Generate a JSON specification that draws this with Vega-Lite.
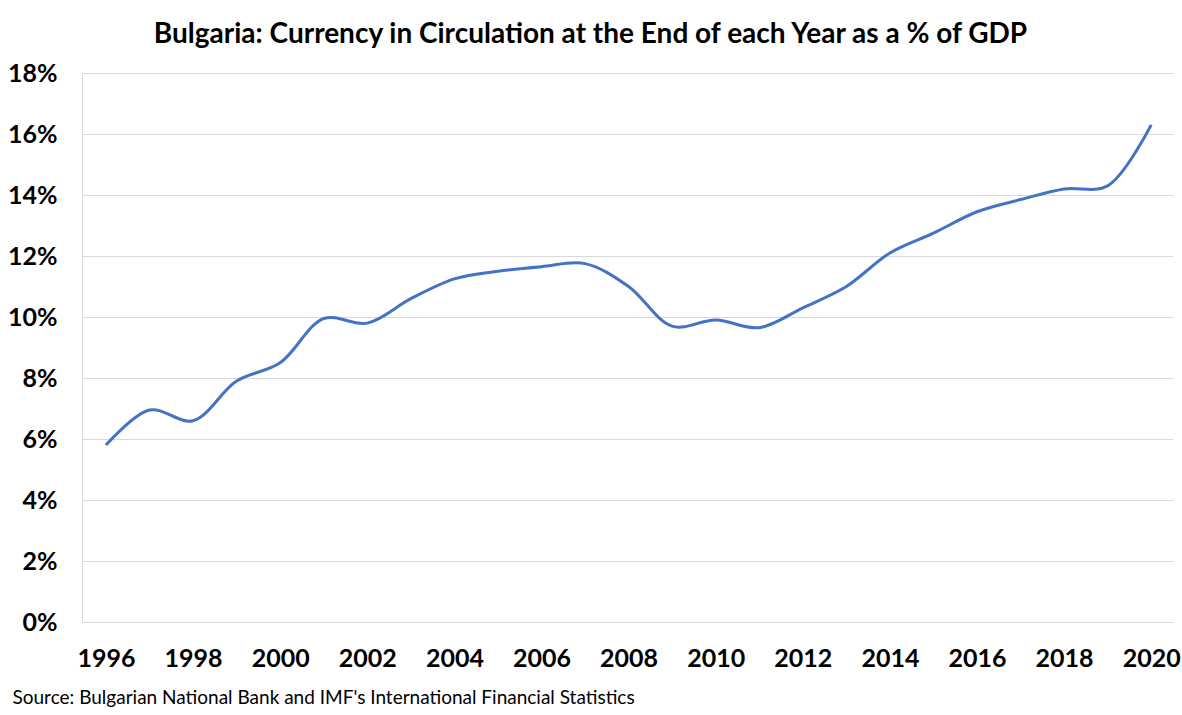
{
  "$schema": "https://vega.github.io/schema/vega-lite/v6.json",
  "width": 1091,
  "height": 549,
  "autosize": {"type": "none"},
  "padding": {"left": 82, "top": 73, "right": 9, "bottom": 93},
  "background": "white",
  "title": {
    "text": "Bulgaria: Currency in Circulation at the End of each Year as a % of GDP",
    "font": "Lato",
    "fontSize": 28,
    "fontWeight": "bold",
    "color": "#000000",
    "anchor": "middle",
    "frame": "group",
    "dx": -37,
    "offset": 12
  },
  "config": {"view": {"stroke": null}},
  "data": {
    "values": [
      {"year": 1996, "pct": 5.8},
      {"year": 1997, "pct": 6.95},
      {"year": 1998, "pct": 6.6},
      {"year": 1999, "pct": 7.9},
      {"year": 2000, "pct": 8.5},
      {"year": 2001, "pct": 9.95},
      {"year": 2002, "pct": 9.8},
      {"year": 2003, "pct": 10.6},
      {"year": 2004, "pct": 11.25},
      {"year": 2005, "pct": 11.5},
      {"year": 2006, "pct": 11.65},
      {"year": 2007, "pct": 11.75},
      {"year": 2008, "pct": 11.0},
      {"year": 2009, "pct": 9.7},
      {"year": 2010, "pct": 9.9},
      {"year": 2011, "pct": 9.65},
      {"year": 2012, "pct": 10.3},
      {"year": 2013, "pct": 11.0},
      {"year": 2014, "pct": 12.1},
      {"year": 2015, "pct": 12.75},
      {"year": 2016, "pct": 13.45},
      {"year": 2017, "pct": 13.85},
      {"year": 2018, "pct": 14.2},
      {"year": 2019, "pct": 14.3},
      {"year": 2020, "pct": 16.3}
    ]
  },
  "mark": {"type": "line", "color": "#4472C4", "strokeWidth": 3, "interpolate": "catmull-rom"},
  "encoding": {
    "x": {
      "field": "year",
      "type": "quantitative",
      "scale": {"domain": [1995.45, 2020.5], "nice": false, "zero": false},
      "axis": {
        "values": [1996, 1998, 2000, 2002, 2004, 2006, 2008, 2010, 2012, 2014, 2016, 2018, 2020],
        "format": "d",
        "grid": false,
        "domain": false,
        "ticks": false,
        "labelFont": "Lato",
        "labelFontSize": 25,
        "labelFontWeight": "bold",
        "labelColor": "#000000",
        "labelPadding": 24,
        "labelFlush": false,
        "title": "Source: Bulgarian National Bank and IMF's International Financial Statistics",
        "titleFont": "Lato",
        "titleFontSize": 19,
        "titleFontWeight": "normal",
        "titleColor": "#000000",
        "titleAnchor": "start",
        "titleAlign": "left",
        "titleBaseline": "middle",
        "titleX": -70,
        "titleY": 75
      }
    },
    "y": {
      "field": "pct",
      "type": "quantitative",
      "scale": {"domain": [0, 18], "nice": false},
      "axis": {
        "values": [0, 2, 4, 6, 8, 10, 12, 14, 16, 18],
        "labelExpr": "datum.value + '%'",
        "grid": true,
        "gridColor": "#D9D9D9",
        "gridWidth": 1,
        "domain": true,
        "domainColor": "#D9D9D9",
        "ticks": false,
        "labelFont": "Lato",
        "labelFontSize": 25,
        "labelFontWeight": "bold",
        "labelColor": "#000000",
        "labelPadding": 25,
        "title": null
      }
    }
  }
}
